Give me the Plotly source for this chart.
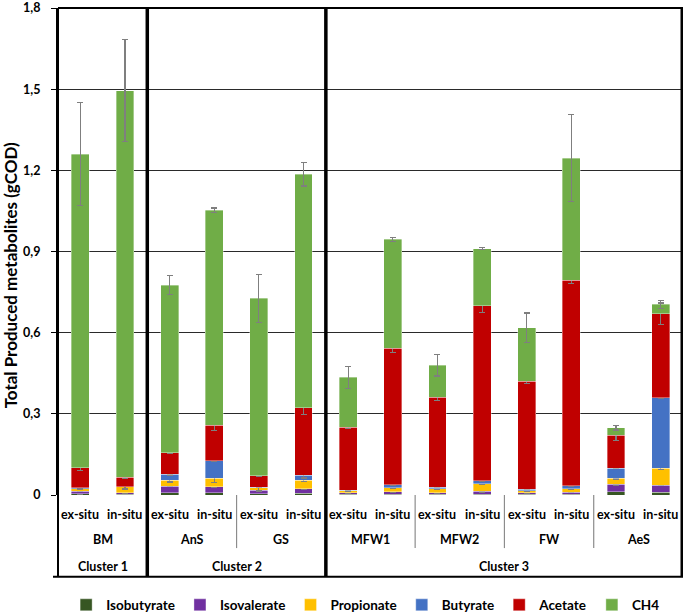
import plotly.graph_objects as go

# ---------------- data ----------------
conditions = ["ex-situ", "in-situ"] * 7
substrates = ["BM", "AnS", "GS", "MFW1", "MFW2", "FW", "AeS"]
clusters = ["Cluster 1", "Cluster 2", "Cluster 3"]
cluster_sizes = [1, 2, 4]          # substrates per cluster

series_names = ["Isobutyrate", "Isovalerate", "Propionate", "Butyrate", "Acetate", "CH4"]
colors = ["#375623", "#7030A0", "#FFC000", "#4472C4", "#C00000", "#70AD47"]

isobutyrate = [0.004, 0.002, 0.009, 0.008, 0.005, 0.006, 0.002, 0.003, 0.002, 0.003, 0.002, 0.003, 0.012, 0.010]
isovalerate = [0.010, 0.006, 0.024, 0.022, 0.012, 0.018, 0.006, 0.009, 0.006, 0.010, 0.006, 0.007, 0.027, 0.026]
propionate  = [0.010, 0.022, 0.021, 0.032, 0.010, 0.030, 0.007, 0.015, 0.016, 0.028, 0.008, 0.014, 0.023, 0.062]
butyrate    = [0.002, 0.001, 0.022, 0.064, 0.001, 0.019, 0.003, 0.011, 0.005, 0.012, 0.006, 0.011, 0.037, 0.261]
acetate     = [0.074, 0.035, 0.080, 0.132, 0.044, 0.250, 0.232, 0.505, 0.333, 0.647, 0.398, 0.758, 0.121, 0.311]
ch4         = [1.160, 1.429, 0.619, 0.795, 0.655, 0.862, 0.185, 0.402, 0.118, 0.210, 0.198, 0.452, 0.028, 0.035]

err_isobutyrate = [None] * 14
err_isovalerate = [0.002, 0.001, 0.003, 0.002, 0.002, 0.002, 0.001, 0.001, 0.001, 0.002, 0.001, 0.001, 0.002, 0.002]
err_propionate  = [0.004, 0.008, 0.006, 0.015, 0.010, 0.004, 0.003, 0.003, 0.003, 0.003, 0.003, 0.003, 0.003, 0.003]
err_butyrate    = [0.001, 0.001, 0.002, 0.003, 0.001, 0.010, 0.001, 0.002, 0.002, 0.003, 0.002, 0.003, 0.002, 0.003]
err_acetate     = [0.008, 0.004, 0.003, 0.020, 0.002, 0.025, 0.003, 0.015, 0.012, 0.025, 0.008, 0.010, 0.020, 0.040]
err_ch4         = [0.190, 0.188, 0.035, 0.008, 0.088, 0.043, 0.040, 0.007, 0.040, 0.004, 0.055, 0.161, 0.008, 0.015]

y_ticks = [0, 0.3, 0.6, 0.9, 1.2, 1.5, 1.8]
y_ticktext = ["0", "0,3", "0,6", "0,9", "1,2", "1,5", "1,8"]
y_title = "Total Produced metabolites (gCOD)"

values = [isobutyrate, isovalerate, propionate, butyrate, acetate, ch4]
errors = [err_isobutyrate, err_isovalerate, err_propionate, err_butyrate, err_acetate, err_ch4]

FONT = "Lato"
x_idx = list(range(len(conditions)))

fig = go.Figure()
for name, col, vals, errs in zip(series_names, colors, values, errors):
    fig.add_trace(go.Bar(
        name="<b>%s</b>" % name, x=x_idx, y=vals, width=0.4,
        marker=dict(color=col, line=dict(color="rgba(255,255,255,0.45)", width=0.8)),
        error_y=dict(type="data", array=errs, visible=True, color="#7f7f7f", thickness=1.2, width=3),
    ))

# ---------------- geometry of label area (paper coords) ----------------
y_row1 = -0.041   # ex-situ / in-situ
y_row2 = -0.092   # substrate
y_row3 = -0.146   # cluster
y_bottom = -0.168
y_thin = -0.109

shapes = []
annotations = []
lab_font = dict(family=FONT, size=12.5, color="black")

for i, c in enumerate(conditions):
    annotations.append(dict(x=i, y=y_row1, xref="x", yref="paper", text="<b>%s</b>" % c,
                            showarrow=False, font=lab_font, xanchor="center", yanchor="middle"))
for j, s in enumerate(substrates):
    annotations.append(dict(x=2 * j + 0.5, y=y_row2, xref="x", yref="paper", text="<b>%s</b>" % s,
                            showarrow=False, font=lab_font, xanchor="center", yanchor="middle"))

start = 0
cluster_edges = []
for cl, n in zip(clusters, cluster_sizes):
    lo = 2 * start - 0.5
    hi = 2 * (start + n) - 0.5
    annotations.append(dict(x=(lo + hi) / 2, y=y_row3, xref="x", yref="paper", text="<b>%s</b>" % cl,
                            showarrow=False, font=lab_font, xanchor="center", yanchor="middle"))
    cluster_edges.append(hi)
    start += n

# y-axis title
annotations.append(dict(x=-0.076, y=0.45, xref="paper", yref="paper", text="<b>%s</b>" % y_title,
                        textangle=-90, showarrow=False, xanchor="center", yanchor="middle",
                        font=dict(family=FONT, size=17, color="black")))

# thin separators between substrates (not at cluster edges)
for j in range(1, len(substrates)):
    xe = 2 * j - 0.5
    if xe in cluster_edges:
        continue
    shapes.append(dict(type="line", xref="x", yref="paper", x0=xe, x1=xe, y0=0, y1=y_thin,
                       line=dict(color="#8c8c8c", width=1.2)))

# thick cluster separators
for xe in cluster_edges[:-1]:
    shapes.append(dict(type="line", xref="x", yref="paper", x0=xe, x1=xe, y0=1, y1=y_bottom,
                       line=dict(color="black", width=3.5)))
# right border
shapes.append(dict(type="line", xref="paper", yref="paper", x0=0.998, x1=0.998, y0=1, y1=y_bottom,
                   line=dict(color="black", width=2.5)))
# left border
shapes.append(dict(type="line", xref="paper", yref="paper", x0=0, x1=0, y0=1, y1=y_bottom,
                   line=dict(color="black", width=2)))
# top border
shapes.append(dict(type="line", xref="paper", yref="paper", x0=0, x1=1, y0=1, y1=1,
                   line=dict(color="black", width=2)))
# bottom line (extends a bit to the left)
shapes.append(dict(type="line", xref="paper", yref="paper", x0=-0.008, x1=1, y0=y_bottom, y1=y_bottom,
                   line=dict(color="black", width=2)))

fig.update_layout(
    width=685, height=615,
    margin=dict(l=58, r=2, t=8, b=120, autoexpand=False),
    barmode="stack",
    plot_bgcolor="white", paper_bgcolor="white",
    font=dict(family=FONT, size=12, color="black"),
    showlegend=True,
    legend=dict(orientation="h", x=0.013, xanchor="left", y=-0.226, yanchor="middle",
                font=dict(family=FONT, size=13.5, color="black"), itemwidth=30,
                traceorder="normal"),
    shapes=shapes,
    annotations=annotations,
    xaxis=dict(range=[-0.5, 13.5], showticklabels=False, showgrid=False, zeroline=False,
               ticks="", showline=False, fixedrange=True, automargin=False),
    yaxis=dict(range=[0, 1.8], tickvals=y_ticks, ticktext=["<b>%s</b>" % t for t in y_ticktext],
               showgrid=True, gridcolor="#2a2a2a", gridwidth=1, zeroline=False,
               ticks="outside", ticklen=5, tickcolor="black", ticklabelstandoff=8,
               showline=True, linecolor="black", linewidth=2, automargin=False,
               tickfont=dict(family=FONT, size=12.5, color="black")),
)

fig.write_html("out.html", config={"displayModeBar": False},
               post_script="document.body.style.margin='0';document.body.style.padding='0';")
